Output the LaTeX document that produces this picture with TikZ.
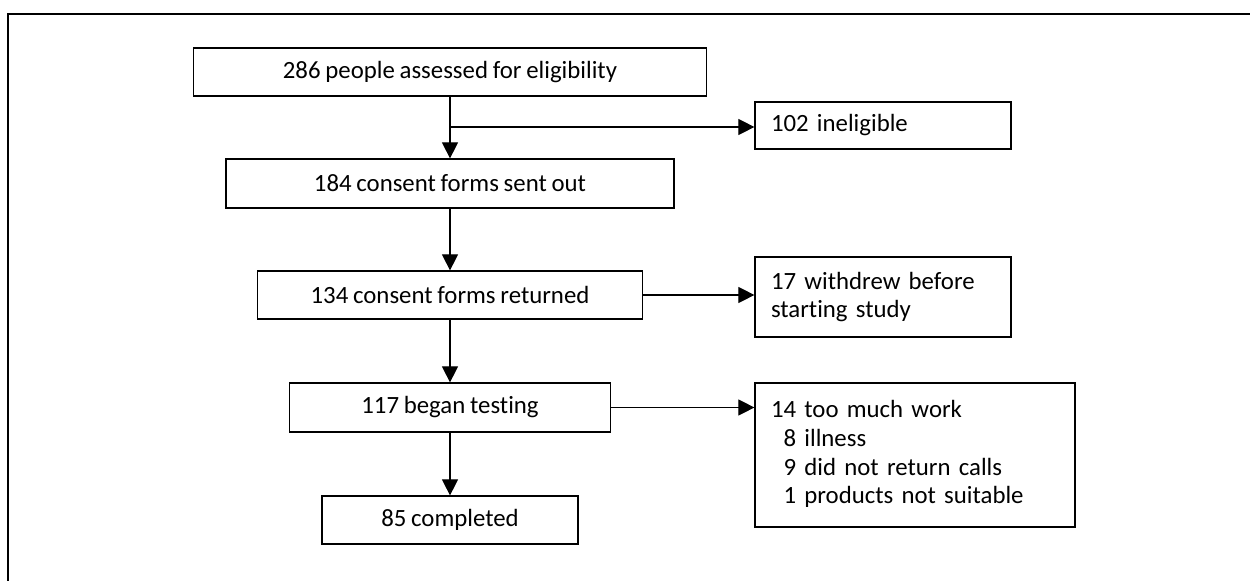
\documentclass[tikz,border=0pt]{standalone}
\usepackage{fontspec}
\setmainfont[Ligatures={NoCommon},WordSpace={0.85}]{Carlito}
\usetikzlibrary{arrows.meta}
\begin{document}
\begin{tikzpicture}[x=0.75pt,y=-0.75pt,
  box/.style={draw,line width=0.9pt,inner sep=0pt,font=\fontsize{18.6}{21.5}\selectfont},
  lbox/.style={box,align=left,inner xsep=12pt,text width=#1},
  arr/.style={line width=0.8pt,-{Triangle[length=12pt,width=12pt]}},
  ]
\useasboundingbox (0,0) rectangle (1250,581);
\draw[line width=0.9pt] (8,581) -- (8,14) -- (1250,14);

\node[box,minimum width=384.75pt,minimum height=36pt] (b1) at (450,72) {286 people assessed for eligibility};
\node[box,minimum width=336pt,minimum height=36.75pt] (b2) at (450,183.5) {184 consent forms sent out};
\node[box,minimum width=288.75pt,minimum height=36pt] (b3) at (450,295) {134 consent forms returned};
\node[box,minimum width=240.75pt,minimum height=36.75pt] (b4) at (450,407.5) {117 began testing};
\node[box,minimum width=192pt,minimum height=36pt] (b5) at (450,520) {85 completed};

\node[lbox=168pt,minimum height=35.25pt] (r1) at (883,125.5) {102 ineligible};
\node[lbox=168pt,minimum height=60pt] (r2) at (883,297) {17 withdrew before\\starting study};
\node[lbox=216pt,minimum height=108pt] (r3) at (915,455) {\raisebox{3.75pt}{\begin{tabular}{@{}r@{ }l@{}}14&too much work\\8&illness\\9&did not return calls\\1&products not suitable\end{tabular}}};

\coordinate (br) at (450,127);
\draw[arr] (b1.south) -- (b2.north);
\draw[arr] (br) -- (br -| r1.west);
\draw[arr] (b2.south) -- (b3.north);
\draw[arr] (b3.south) -- (b4.north);
\draw[arr] (b4.south) -- (b5.north);
\draw[arr] (b3.east) -- (b3.east -| r2.west);
\draw[arr] (b4.east) -- (b4.east -| r3.west);
\end{tikzpicture}
\end{document}
